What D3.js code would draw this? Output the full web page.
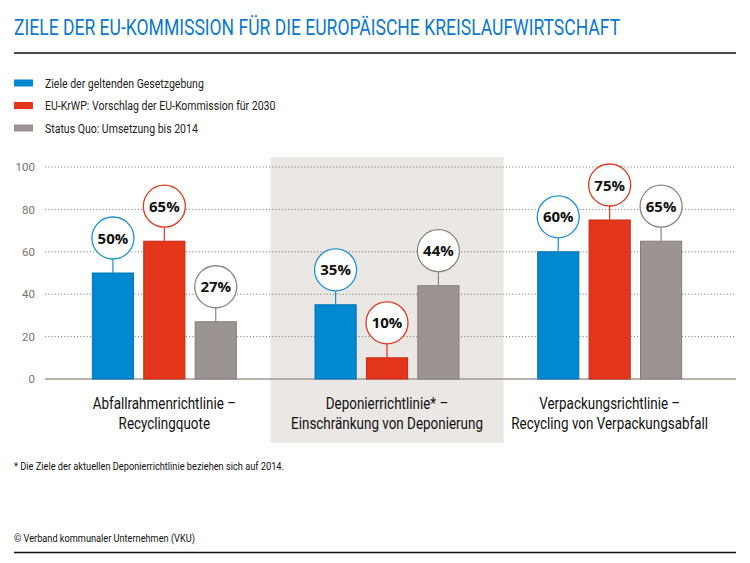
<!DOCTYPE html>
<html>
<head>
<meta charset="utf-8">
<script src="https://cdn.jsdelivr.net/npm/d3@7"></script>
<style>
  body { margin: 0; background: #fff; }
  svg text { font-family: Roboto, "DejaVu Sans", sans-serif; }
</style>
</head>
<body>
<div id="chart"></div>
<script>
const categories = ["Abfallrahmenrichtlinie", "Deponierrichtlinie", "Verpackungsrichtlinie"];
const categoryLabels = [
  ["Abfallrahmenrichtlinie –", "Recyclingquote"],
  ["Deponierrichtlinie* –", "Einschränkung von Deponierung"],
  ["Verpackungsrichtlinie –", "Recycling von Verpackungsabfall"]
];
const seriesNames = [
  "Ziele der geltenden Gesetzgebung",
  "EU-KrWP: Vorschlag der EU-Kommission für 2030",
  "Status Quo: Umsetzung bis 2014"
];
const geltend = [50, 35, 60];
const vorschlag = [65, 10, 75];
const statusQuo = [27, 44, 65];
const yTicks = [0, 20, 40, 60, 80, 100];

const fills = ["#0088d0", "#e2351a", "#9b9490"];
const strokes = ["#0072b5", "#c42c14", "#857e7a"];
const rings = ["#1a8fd6", "#e2351a", "#8a837f"];

const width = 750, height = 563;
const svg = d3.select("#chart").append("svg")
  .attr("width", width)
  .attr("height", height);

// the original uses a narrow corporate face: squeeze text horizontally
function condensed(parent, x, y, str, size, factor, anchor) {
  const t = parent.append("text")
    .attr("transform", `translate(${x},${y}) scale(${factor},1)`)
    .attr("font-size", size)
    .attr("text-anchor", anchor || "start")
    .text(str);
  return t;
}

// title
condensed(svg, 14, 35, "ZIELE DER EU-KOMMISSION FÜR DIE EUROPÄISCHE KREISLAUFWIRTSCHAFT", 22.5, 0.78)
  .attr("fill", "#0a78cc");
svg.append("line")
  .attr("x1", 14).attr("x2", 736).attr("y1", 53).attr("y2", 53)
  .attr("stroke", "#111").attr("stroke-width", 1.5);

// legend
const legend = svg.append("g");
seriesNames.forEach((name, i) => {
  const y = 83 + i * 22.5;
  legend.append("rect")
    .attr("x", 14).attr("y", y - 3.5).attr("width", 19).attr("height", 7)
    .attr("fill", fills[i]);
  condensed(legend, 45, y + 4.5, name, 13, 0.81).attr("fill", "#222");
});

// scales
const x0 = d3.scaleBand().domain(categories).range([53, 721]);
const x1 = d3.scaleBand().domain([0, 1, 2]).range([-72.5, 72.5]).paddingInner(0.18);
const y = d3.scaleLinear().domain([0, 100]).range([379, 167]);

// shaded middle panel
svg.append("rect")
  .attr("x", x0(categories[1]) + x0.bandwidth() / 2 - 116.5)
  .attr("y", 157)
  .attr("width", 233)
  .attr("height", 286)
  .attr("fill", "#ebe7e5");

// grid
const grid = svg.append("g");
yTicks.filter(t => t > 0).forEach(t => {
  grid.append("line")
    .attr("x1", 45).attr("x2", 736)
    .attr("y1", y(t)).attr("y2", y(t))
    .attr("stroke", "#8a8380").attr("stroke-width", 1)
    .attr("stroke-dasharray", "1.2,2");
});
svg.append("line")
  .attr("x1", 45).attr("x2", 736).attr("y1", y(0)).attr("y2", y(0))
  .attr("stroke", "#a09995").attr("stroke-width", 1.5);

// y axis labels
const yAxis = d3.axisLeft(y).tickValues(yTicks).tickSize(0).tickPadding(0);
svg.append("g")
  .attr("transform", "translate(35,0)")
  .call(yAxis)
  .call(g => g.select(".domain").remove())
  .call(g => g.selectAll("text")
    .attr("font-size", 11.5)
    .attr("fill", "#7a716d")
    .style("font-family", "Roboto, 'DejaVu Sans', sans-serif"));

// bars
const series = [geltend, vorschlag, statusQuo];
const groups = svg.append("g").selectAll("g")
  .data(categories)
  .join("g")
  .attr("transform", d => `translate(${x0(d) + x0.bandwidth() / 2},0)`);

groups.each(function (cat, ci) {
  const g = d3.select(this);
  series.forEach((vals, si) => {
    const v = vals[ci];
    const bx = x1(si);
    const bw = x1.bandwidth();
    const cx = bx + bw / 2;
    const top = y(v);
    const cy = top - 35;
    g.append("rect")
      .attr("x", bx + 0.5).attr("y", top)
      .attr("width", bw - 1).attr("height", y(0) - top)
      .attr("fill", fills[si])
      .attr("stroke", strokes[si]).attr("stroke-width", 1);
    g.append("line")
      .attr("x1", cx).attr("x2", cx)
      .attr("y1", cy + 21).attr("y2", top)
      .attr("stroke", rings[si]).attr("stroke-width", 1.2);
    g.append("circle")
      .attr("cx", cx).attr("cy", cy).attr("r", 21)
      .attr("fill", "#fff")
      .attr("stroke", rings[si]).attr("stroke-width", 1.3);
    g.append("text")
      .attr("x", cx).attr("y", cy + 5.5)
      .attr("text-anchor", "middle")
      .attr("font-weight", "bold")
      .attr("fill", "#111")
      .style("font-family", "'Open Sans', 'DejaVu Sans', sans-serif")
      .attr("font-size", 15)
      .text(v + "%");
  });
  categoryLabels[ci].forEach((line, li) => {
    condensed(g, 0, 409 + li * 20, line, 16, 0.84, "middle").attr("fill", "#111");
  });
});

// footnote and source
condensed(svg, 14, 470, "* Die Ziele der aktuellen Deponierrichtlinie beziehen sich auf 2014.", 10.5, 0.88)
  .attr("fill", "#111");
condensed(svg, 14, 542, "© Verband kommunaler Unternehmen (VKU)", 11.5, 0.8)
  .attr("fill", "#111");
svg.append("line")
  .attr("x1", 14).attr("x2", 736).attr("y1", 552.5).attr("y2", 552.5)
  .attr("stroke", "#111").attr("stroke-width", 1.5);
</script>
</body>
</html>
